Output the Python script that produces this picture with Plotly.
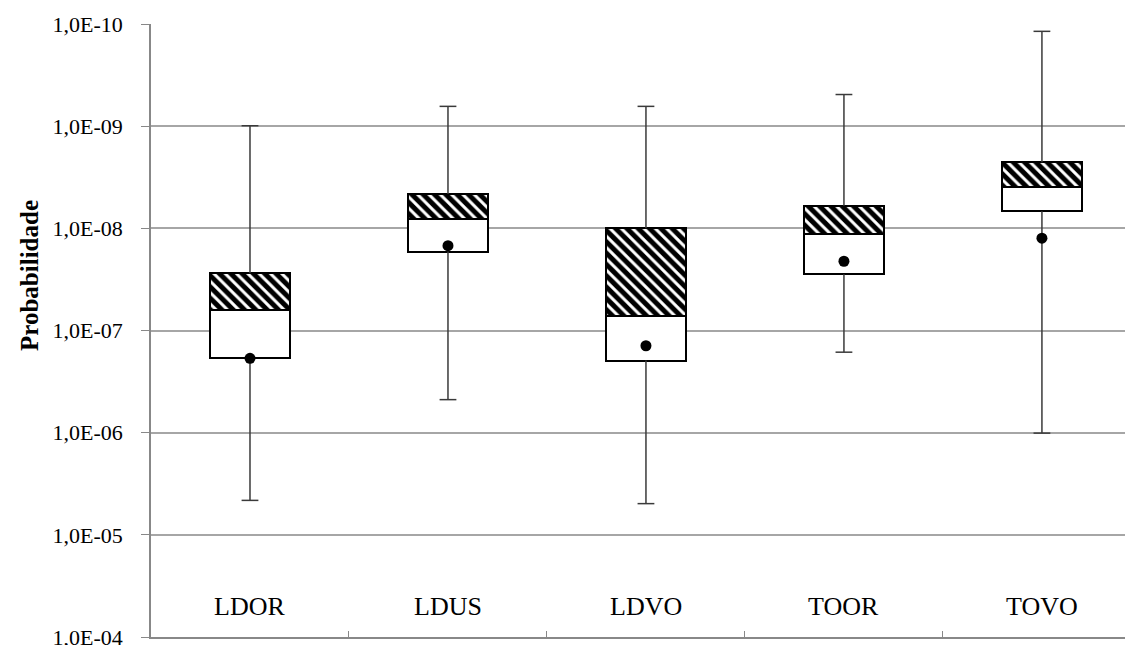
import plotly.graph_objects as go

categories = ["LDOR", "LDUS", "LDVO", "TOOR", "TOVO"]
whisker_low = [9.9e-10, 6.4e-10, 6.4e-10, 4.9e-10, 1.18e-10]   # smallest probability (top)
box_low = [2.75e-8, 4.6e-9, 1.0e-8, 6.0e-9, 2.25e-9]           # hatched box edge
median = [6.3e-8, 8.1e-9, 7.2e-8, 1.13e-8, 3.9e-9]
box_high = [1.87e-7, 1.69e-8, 1.97e-7, 2.82e-8, 6.8e-9]         # white box edge
whisker_high = [4.6e-6, 4.75e-7, 4.95e-6, 1.63e-7, 1.01e-6]    # largest probability (bottom)
mean = [1.87e-7, 1.48e-8, 1.41e-7, 2.1e-8, 1.25e-8]

tick_vals = [1e-10, 1e-9, 1e-8, 1e-7, 1e-6, 1e-5, 1e-4]
tick_text = ["1,0E-10", "1,0E-09", "1,0E-08", "1,0E-07", "1,0E-06", "1,0E-05", "1,0E-04"]

FONT = "Liberation Serif"
BOX_W = 0.404

fig = go.Figure()

# whisker lines
wx, wy = [], []
for c, a, b, d, e in zip(categories, whisker_low, box_low, box_high, whisker_high):
    wx += [c, c, None, c, c, None]
    wy += [a, b, None, d, e, None]
fig.add_trace(go.Scatter(x=wx, y=wy, mode="lines",
                         line=dict(color="#3a3a3a", width=1.5),
                         hoverinfo="skip", showlegend=False))
# caps
fig.add_trace(go.Scatter(x=categories + categories, y=whisker_low + whisker_high,
                         mode="markers",
                         marker=dict(symbol="line-ew", size=12,
                                     line=dict(color="#3a3a3a", width=1.5)),
                         showlegend=False))

# hatched part: box_low -> median
fig.add_trace(go.Bar(x=categories, base=box_low,
                     y=[m - q for m, q in zip(median, box_low)],
                     width=BOX_W,
                     marker=dict(color="white",
                                 line=dict(color="black", width=2),
                                 pattern=dict(shape="\\", fgcolor="black", bgcolor="white",
                                              size=8, solidity=0.62, fgopacity=1)),
                     showlegend=False))
# white part: median -> box_high
fig.add_trace(go.Bar(x=categories, base=median,
                     y=[q - m for m, q in zip(median, box_high)],
                     width=BOX_W,
                     marker=dict(color="white", line=dict(color="black", width=2)),
                     showlegend=False))

# means
fig.add_trace(go.Scatter(x=categories, y=mean, mode="markers",
                         marker=dict(symbol="circle", size=11, color="black"),
                         showlegend=False))

for c in categories:
    fig.add_annotation(x=c, xref="x", y=0.049, yref="paper", text=c, showarrow=False,
                       font=dict(family=FONT, size=26, color="black"),
                       xanchor="center", yanchor="middle")

fig.add_annotation(x=-0.1232, xref="paper", y=0.589, yref="paper", text="<b>Probabilidade</b>",
                   textangle=-90, showarrow=False,
                   font=dict(family=FONT, size=25, color="black"),
                   xanchor="center", yanchor="middle")

# the page body adds an 8 px offset; margins compensate so the plot sits where the reference has it
fig.update_layout(
    width=1133, height=645,
    margin=dict(l=143, r=8, t=16, b=16, autoexpand=False),
    paper_bgcolor="white", plot_bgcolor="white",
    barmode="overlay", bargap=0,
    showlegend=False,
    font=dict(family=FONT, size=22, color="black"),
    xaxis=dict(type="category", range=[-0.5, 4.46], showticklabels=False,
               ticks="inside", tickson="boundaries", ticklen=6, tickcolor="#888888",
               showline=True, linecolor="#888888", linewidth=1.5,
               showgrid=False, zeroline=False, fixedrange=True, automargin=False),
    yaxis=dict(type="log", range=[-4, -10], tickvals=tick_vals, ticktext=tick_text,
               ticks="outside", ticklen=8, tickcolor="#888888",
               showline=True, linecolor="#888888", linewidth=1.5,
               showgrid=True, gridcolor="#a6a6a6", gridwidth=1.5,
               zeroline=False, tickfont=dict(family=FONT, size=22, color="black"),
               ticklabelstandoff=14, automargin=False),
)

fig.write_html("out.html")
